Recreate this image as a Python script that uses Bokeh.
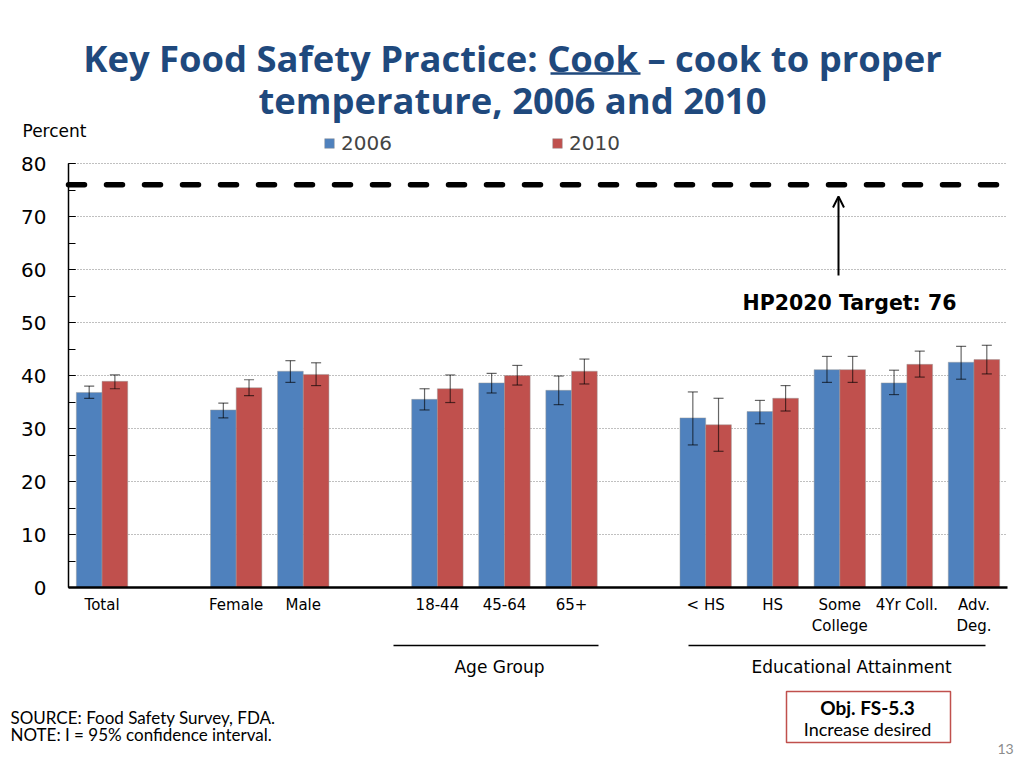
from bokeh.plotting import figure
from bokeh.models import (Range1d, Label, Arrow, OpenHead, BoxAnnotation,
                          Legend, LegendItem, FixedTicker, SingleIntervalTicker, ColumnDataSource)
from bokeh.embed import file_html
from bokeh.resources import INLINE

# ---------------- data ----------------
categories = ["Total", "Female", "Male", "18-44", "45-64", "65+",
              "< HS", "HS", "Some\nCollege", "4Yr Coll.", "Adv.\nDeg."]
slots = [0, 2, 3, 5, 6, 7, 9, 10, 11, 12, 13]
v2006 = [36.8, 33.5, 40.8, 35.5, 38.6, 37.2, 32.0, 33.2, 41.1, 38.6, 42.5]
v2010 = [38.9, 37.7, 40.2, 37.5, 40.0, 40.8, 30.7, 35.7, 41.1, 42.1, 43.0]
lo2006 = [35.7, 32.0, 38.7, 33.5, 36.7, 34.5, 26.9, 30.9, 38.7, 36.4, 39.3]
hi2006 = [38.0, 34.8, 42.8, 37.5, 40.4, 39.9, 36.9, 35.3, 43.6, 41.0, 45.5]
lo2010 = [37.5, 36.2, 38.1, 34.9, 38.2, 38.4, 25.7, 33.3, 38.7, 39.7, 40.3]
hi2010 = [40.1, 39.2, 42.4, 40.1, 41.9, 43.1, 35.7, 38.1, 43.6, 44.6, 45.7]
target = 76
y_ticks = [0, 10, 20, 30, 40, 50, 60, 70, 80]

BLUE = "#4F81BD"
RED = "#C0504D"
TITLE = "#1F497D"
TF = "Open Sans"
FF = "Lato"

W, H = 1016, 760

# page-pixel helpers (for annotation placement only)
def X(px):
    return -0.5 + (px - 68) * 14.0 / 939.0

def Y(py):
    return (587 - py) * 80.0 / 424.0

# ---------------- figure ----------------
p = figure(width=W, height=H, output_backend="svg", toolbar_location=None,
           x_range=Range1d(X(0), X(W)), y_range=Range1d(Y(H), Y(0)),
           min_border=0)
p.outline_line_color = None
p.background_fill_color = "white"
p.border_fill_color = "white"

bw = 0.383
x06 = [s - bw / 2 for s in slots]
x10 = [s + bw / 2 for s in slots]
src06 = ColumnDataSource(dict(x=x06, top=v2006, lo=lo2006, hi=hi2006))
src10 = ColumnDataSource(dict(x=x10, top=v2010, lo=lo2010, hi=hi2010))

# grid (bounded to the plot area)
p.xgrid.grid_line_color = None
try:
    p.ygrid.cross_bounds = (-0.5, 13.5)
    p.ygrid.grid_line_color = "#808080"
    p.ygrid.grid_line_dash = "1 2"
    p.ygrid.grid_line_width = 1
    p.ygrid.bounds = (0, 80)
except AttributeError:
    p.ygrid.grid_line_color = None
    p.segment(x0=[-0.5] * len(y_ticks), x1=[13.5] * len(y_ticks), y0=y_ticks, y1=y_ticks,
              line_color="#808080", line_dash="1 2", line_width=1)

r06 = p.vbar(x="x", top="top", width=bw, source=src06, fill_color=BLUE,
             line_color="#9a9a9a", line_width=0.8, line_alpha=0.6)
r10 = p.vbar(x="x", top="top", width=bw, source=src10, fill_color=RED,
             line_color="#9a9a9a", line_width=0.8, line_alpha=0.6)

cap = 0.075
for src in (src06, src10):
    p.segment(x0="x", y0="lo", x1="x", y1="hi", source=src, line_color="black",
              line_alpha=0.6, line_width=1.2)
    d = src.data
    p.segment(x0=[v - cap for v in d["x"]], y0=d["hi"], x1=[v + cap for v in d["x"]], y1=d["hi"],
              line_color="black", line_alpha=0.6, line_width=1.2)
    p.segment(x0=[v - cap for v in d["x"]], y0=d["lo"], x1=[v + cap for v in d["x"]], y1=d["lo"],
              line_color="black", line_alpha=0.6, line_width=1.2)

# axes (placed inside the frame)
p.yaxis.fixed_location = -0.5
p.yaxis.bounds = (0, 80)
p.yaxis.ticker = SingleIntervalTicker(interval=10, num_minor_ticks=2)
p.yaxis.major_tick_in = 7
p.yaxis.major_tick_out = 0
p.yaxis.minor_tick_in = 7
p.yaxis.minor_tick_out = 0
p.yaxis.major_label_standoff = 22
p.yaxis.major_label_text_font = "DejaVu Sans"
p.yaxis.major_label_text_font_size = "20px"
p.yaxis.major_label_text_color = "black"
p.yaxis.axis_line_color = "black"
p.yaxis.axis_line_width = 1.5
p.yaxis.major_tick_line_color = "black"
p.yaxis.minor_tick_line_color = "black"

p.xaxis.fixed_location = 0
p.xaxis.bounds = (-0.5, 13.5)
p.xaxis.ticker = FixedTicker(ticks=slots)
p.xaxis.major_label_overrides = {s: c for s, c in zip(slots, categories)}
p.xaxis.major_tick_in = 0
p.xaxis.major_tick_out = 0
p.xaxis.minor_tick_line_color = None
p.xaxis.major_label_standoff = 8
p.xaxis.major_label_text_font = "DejaVu Sans"
p.xaxis.major_label_text_font_size = "15px"
p.xaxis.major_label_text_color = "black"
p.xaxis.axis_line_color = "black"
p.xaxis.axis_line_width = 2.5

# target line and arrow
p.segment(x0=[-0.5], x1=[13.5], y0=[target], y1=[target], line_color="black", line_width=5.5,
          line_dash="16 22", line_cap="round")
p.add_layout(Arrow(x_start=X(838), y_start=Y(275), x_end=X(838), y_end=Y(196),
                   line_width=2, line_color="black",
                   end=OpenHead(size=11, line_width=2, line_color="black")))
p.add_layout(Label(x=X(849), y=Y(302), text="HP2020 Target: " + str(target), text_align="center",
                   text_baseline="middle", text_font="DejaVu Sans", text_font_style="bold",
                   text_font_size="20.5px", text_color="black"))

# title
p.add_layout(Label(x=X(512), y=Y(57), text="Key Food Safety Practice: Cook \u2013 cook to proper",
                   text_align="center", text_baseline="middle", text_font=TF,
                   text_font_style="bold", text_font_size="36.4px", text_color=TITLE))
p.add_layout(Label(x=X(512), y=Y(99), text="temperature, 2006 and 2010",
                   text_align="center", text_baseline="middle", text_font=TF,
                   text_font_style="bold", text_font_size="36.4px", text_color=TITLE))
p.add_layout(Arrow(x_start=X(550), y_start=Y(73), x_end=X(640), y_end=Y(73), end=None,
                   line_width=2.5, line_color=TITLE))

p.add_layout(Label(x=X(22), y=Y(130), text="Percent", text_align="left", text_baseline="middle",
                   text_font="DejaVu Sans", text_font_size="17px", text_color="black"))

# legends
for r, name, lx in ((r06, "2006", 324), (r10, "2010", 552)):
    lg = Legend(items=[LegendItem(label=name, renderers=[r])], location=(lx - 1, H - 155),
                orientation="horizontal", padding=0, margin=0, spacing=0,
                glyph_width=12, glyph_height=12, label_standoff=6, label_height=20,
                label_text_font="DejaVu Sans", label_text_font_size="20px",
                border_line_color=None, background_fill_alpha=0)
    p.add_layout(lg)

# group lines and labels
p.add_layout(Arrow(x_start=X(393), y_start=Y(645), x_end=X(598), y_end=Y(645), end=None,
                   line_width=1.3, line_color="black"))
p.add_layout(Arrow(x_start=X(688), y_start=Y(645), x_end=X(985), y_end=Y(645), end=None,
                   line_width=1.3, line_color="black"))
p.add_layout(Label(x=X(499), y=Y(666), text="Age Group", text_align="center", text_baseline="middle",
                   text_font="DejaVu Sans", text_font_size="17px", text_color="black"))
p.add_layout(Label(x=X(851), y=Y(666), text="Educational Attainment", text_align="center",
                   text_baseline="middle", text_font="DejaVu Sans", text_font_size="17px",
                   text_color="black"))

# footer
p.add_layout(Label(x=X(10), y=Y(717), text="SOURCE: Food Safety Survey, FDA.", text_align="left",
                   text_baseline="middle", text_font=FF, text_font_size="17px",
                   text_color="black"))
p.add_layout(Label(x=X(10), y=Y(734), text="NOTE: I = 95% confidence interval.", text_align="left",
                   text_baseline="middle", text_font=FF, text_font_size="17px",
                   text_color="black"))

p.add_layout(BoxAnnotation(left=X(786), right=X(950), top=Y(691), bottom=Y(742),
                           fill_color="white", fill_alpha=1, line_color=RED, line_alpha=1,
                           line_width=1.5))
p.add_layout(Label(x=X(867), y=Y(707), text="Obj. FS-5.3", text_align="center", text_baseline="middle",
                   text_font=FF, text_font_style="bold", text_font_size="19px",
                   text_color="black"))
p.add_layout(Label(x=X(867), y=Y(728), text="Increase desired", text_align="center",
                   text_baseline="middle", text_font=FF, text_font_size="18px",
                   text_color="black"))
p.add_layout(Label(x=X(1005), y=Y(748), text="13", text_align="center", text_baseline="middle",
                   text_font=FF, text_font_size="14px", text_color="#8c8c8c"))

open("out.html", "w").write(file_html(p, INLINE))
